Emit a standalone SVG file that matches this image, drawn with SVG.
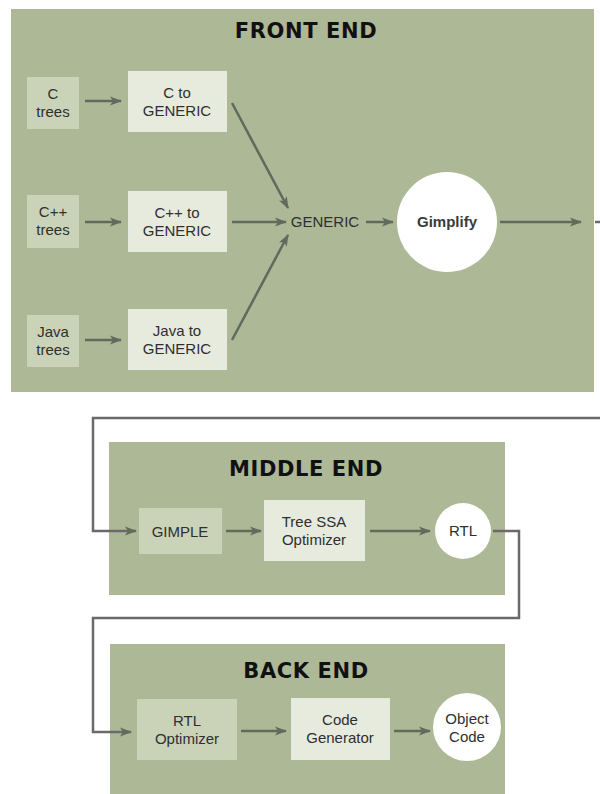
<svg xmlns="http://www.w3.org/2000/svg" width="600" height="794" viewBox="0 0 600 794">
  <style>
    .panel { fill: #adb896; }
    .box-mid { fill: #cad3b8; }
    .box-light { fill: #e7ebde; }
    .circle { fill: #ffffff; }
    .title { font-family: "DejaVu Sans", "Liberation Sans", sans-serif; font-weight: bold; font-size: 21px; fill: #111; text-anchor: middle; letter-spacing: 0.6px; }
    .label { font-family: "Liberation Sans", Arial, sans-serif; font-size: 15px; fill: #2f2f2f; text-anchor: middle; }
    .label-b { font-family: "Liberation Sans", Arial, sans-serif; font-size: 15px; font-weight: bold; fill: #3a3a3a; text-anchor: middle; }
    .flow { stroke: #616a5c; stroke-width: 2.5; fill: none; }
    .link { stroke: #6a6a6a; stroke-width: 2.5; fill: none; }
  </style>
  <defs>
    <marker id="arrow" markerUnits="userSpaceOnUse" markerWidth="12" markerHeight="10" refX="11" refY="5" orient="auto">
      <path d="M0,0.5 L12,5 L0,9.5 L3,5 z" fill="#616a5c"/>
    </marker>
  </defs>

  <rect width="600" height="794" fill="#ffffff"/>

  <!-- panels -->
  <g id="front-end">
    <rect class="panel" x="11" y="9" width="583" height="383"/>
    <text class="title" x="306" y="38">FRONT END</text>
  </g>
  <g id="middle-end">
    <rect class="panel" x="109" y="442" width="396" height="153"/>
    <text class="title" x="306" y="476" font-size="22">MIDDLE END</text>
  </g>
  <g id="back-end">
    <rect class="panel" x="110" y="644" width="395" height="150"/>
    <text class="title" x="306" y="678" font-size="22">BACK END</text>
  </g>

  <!-- front end nodes -->
  <g id="c-trees">
    <rect class="box-mid" x="27" y="77" width="52" height="52"/>
    <text class="label" x="53" y="99">C</text>
    <text class="label" x="53" y="117">trees</text>
  </g>
  <g id="c-to-generic">
    <rect class="box-light" x="128" y="71" width="99" height="61"/>
    <text class="label" x="177" y="98">C to</text>
    <text class="label" x="177" y="116">GENERIC</text>
  </g>
  <g id="cpp-trees">
    <rect class="box-mid" x="27" y="195" width="52" height="53"/>
    <text class="label" x="53" y="217">C++</text>
    <text class="label" x="53" y="235">trees</text>
  </g>
  <g id="cpp-to-generic">
    <rect class="box-light" x="128" y="191" width="99" height="61"/>
    <text class="label" x="177" y="218">C++ to</text>
    <text class="label" x="177" y="236">GENERIC</text>
  </g>
  <g id="java-trees">
    <rect class="box-mid" x="27" y="315" width="52" height="52"/>
    <text class="label" x="53" y="337">Java</text>
    <text class="label" x="53" y="355">trees</text>
  </g>
  <g id="java-to-generic">
    <rect class="box-light" x="128" y="309" width="99" height="61"/>
    <text class="label" x="177" y="336">Java to</text>
    <text class="label" x="177" y="354">GENERIC</text>
  </g>
  <g id="generic">
    <text class="label" x="325" y="227">GENERIC</text>
  </g>
  <g id="gimplify">
    <circle class="circle" cx="447" cy="222" r="50"/>
    <text class="label-b" x="447" y="227">Gimplify</text>
  </g>

  <!-- middle end nodes -->
  <g id="gimple">
    <rect class="box-mid" x="139" y="508" width="83" height="46"/>
    <text class="label" x="180" y="537">GIMPLE</text>
  </g>
  <g id="tree-ssa">
    <rect class="box-light" x="264" y="500" width="101" height="61"/>
    <text class="label" x="314" y="527">Tree SSA</text>
    <text class="label" x="314" y="545">Optimizer</text>
  </g>
  <g id="rtl">
    <circle class="circle" cx="463" cy="531" r="28"/>
    <text class="label" x="463" y="536">RTL</text>
  </g>

  <!-- back end nodes -->
  <g id="rtl-optimizer">
    <rect class="box-mid" x="137" y="699" width="100" height="61"/>
    <text class="label" x="187" y="726">RTL</text>
    <text class="label" x="187" y="744">Optimizer</text>
  </g>
  <g id="code-generator">
    <rect class="box-light" x="291" y="698" width="99" height="62"/>
    <text class="label" x="340" y="725">Code</text>
    <text class="label" x="340" y="743">Generator</text>
  </g>
  <g id="object-code">
    <circle class="circle" cx="467" cy="727" r="34"/>
    <text class="label" x="467" y="724">Object</text>
    <text class="label" x="467" y="742">Code</text>
  </g>

  <!-- connectors -->
  <g id="connectors">
    <path class="flow" d="M85,101 H121" marker-end="url(#arrow)"/>
    <path class="flow" d="M85,222 H121" marker-end="url(#arrow)"/>
    <path class="flow" d="M85,340 H121" marker-end="url(#arrow)"/>
    <path class="flow" d="M232,103 L288,208" marker-end="url(#arrow)"/>
    <path class="flow" d="M232,222 H286" marker-end="url(#arrow)"/>
    <path class="flow" d="M232,340 L288,235" marker-end="url(#arrow)"/>
    <path class="flow" d="M366,222 H393" marker-end="url(#arrow)"/>
    <path class="flow" d="M500,222 H581" marker-end="url(#arrow)"/>
    <path class="link" d="M595,222 H600"/>
    <path class="link" d="M600,418 H93 V531 H136" marker-end="url(#arrow)"/>
    <path class="flow" d="M226,531 H261" marker-end="url(#arrow)"/>
    <path class="flow" d="M370,531 H430" marker-end="url(#arrow)"/>
    <path class="link" d="M493,531 H519 V618 H93 V732 H131" marker-end="url(#arrow)"/>
    <path class="flow" d="M241,731 H286" marker-end="url(#arrow)"/>
    <path class="flow" d="M394,731 H430" marker-end="url(#arrow)"/>
  </g>
</svg>
